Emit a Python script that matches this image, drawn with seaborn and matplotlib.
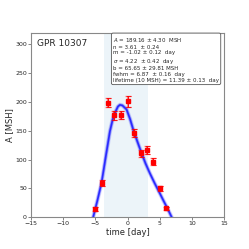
import numpy as np
import matplotlib
matplotlib.use("Agg")
import matplotlib.pyplot as plt
import seaborn as sns

sns.set_theme(style="ticks")
plt.rcParams['font.family'] = ['DejaVu Sans']

# observed areas
obs_time = [-5.0, -4.0, -3.05, -2.05, -1.05, 0.0, 1.0, 2.05, 2.95, 4.0, 5.1, 5.95]
obs_area = [14, 59, 199, 177, 177, 201, 146, 111, 116, 96, 50, 15]
obs_err = [3, 5, 8, 8, 7, 9, 7, 6, 7, 6, 4, 2]

# fitted curve
fit_time = [-5.6, -5.33, -4.7, -4.03, -3.4, -2.74, -2.3, -1.96, -1.5, -1.19, -0.8,
            -0.15, 0.4, 0.88, 1.5, 2.18, 2.8, 3.47, 4.2, 5.02, 5.6, 6.06, 6.5, 6.84, 7.1]
fit_area = [-12, 0, 28, 60, 104, 149, 170, 181, 192, 195, 194,
            187, 170, 152, 132, 111, 93, 76, 59, 41, 28, 18, 8, 0, -8]

span_start, span_end = -3.72, 3.1

label_lines = [
    "$A$ = 189.16 ± 4.30  MSH",
    "n = 3.61  ± 0.24",
    "m = -1.02 ± 0.12  day",
    "$\\sigma$ = 4.22  ± 0.42  day",
    "b = 65.65 ± 29.81 MSH",
    "fwhm = 6.87  ± 0.16  day",
    "lifetime (10 MSH) = 11.39 ± 0.13  day",
]

fig = plt.figure(figsize=(2.49, 2.49), dpi=100)
ax = fig.add_axes([0.1245, 0.1285, 0.7755, 0.739])

ax.axvspan(span_start, span_end, color="#eaf3f9", alpha=0.9, lw=0, zorder=0)

# fuzzy band + main fit line
sns.lineplot(x=fit_time, y=fit_area, ax=ax, color="blue", lw=3.2, alpha=0.12, sort=False)
sns.lineplot(x=fit_time, y=fit_area, ax=ax, color="blue", lw=2.2, alpha=0.3, sort=False)
sns.lineplot(x=fit_time, y=fit_area, ax=ax, color="#2a2aff", lw=1.2, sort=False)

ax.errorbar(obs_time, obs_area, yerr=obs_err, fmt="none", ecolor="red", alpha=0.45,
            elinewidth=1.5, capsize=2, capthick=1.0, zorder=4)
ax.errorbar(obs_time, obs_area, yerr=obs_err, fmt="s", color="red", ms=2.4,
            elinewidth=0.6, capsize=1.8, capthick=0.6, zorder=5)

ax.set_xlim(-15, 15)
ax.set_ylim(0, 320)
ax.set_xticks(np.arange(-15, 16, 5))
ax.set_yticks(np.arange(0, 301, 50))
ax.tick_params(labelsize=4.5, length=2, width=0.5, pad=1, color="#555555")
for s in ax.spines.values():
    s.set_color("#888888")
    s.set_linewidth(0.8)
ax.set_xlabel("time [day]", fontsize=6, labelpad=1)
ax.set_ylabel("A [MSH]", fontsize=6, labelpad=1)

ax.text(0.03, 0.965, "GPR 10307", transform=ax.transAxes, fontsize=6.5,
        va="top", ha="left")
ax.text(0.425, 0.985, "\n".join(label_lines), transform=ax.transAxes, fontsize=4.0,
        va="top", ha="left", linespacing=1.2,
        bbox=dict(boxstyle="round,pad=0.3", fc="white", ec="#555555", lw=0.6))

fig.savefig("out.png", dpi=100)
